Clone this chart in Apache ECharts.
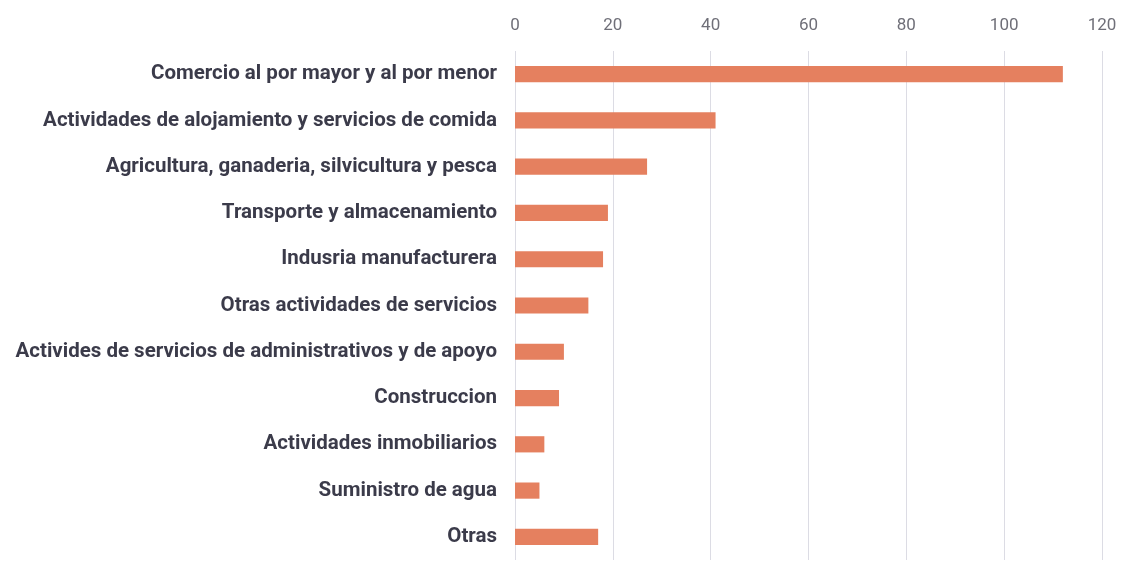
<!DOCTYPE html>
<html><head><meta charset="utf-8">
<script src="https://cdn.jsdelivr.net/npm/echarts@6/dist/echarts.min.js"></script>
<style>html,body{margin:0;padding:0;background:#fff}#c{width:1129px;height:562px}</style>
</head><body><div id="c"></div>
<script>
const categories = [
  "Comercio al por mayor y al por menor",
  "Actividades de alojamiento y servicios de comida",
  "Agricultura, ganaderia, silvicultura y pesca",
  "Transporte y almacenamiento",
  "Indusria manufacturera",
  "Otras actividades de servicios",
  "Activides de servicios de administrativos y de apoyo",
  "Construccion",
  "Actividades inmobiliarios",
  "Suministro de agua",
  "Otras"
];
const values = [112, 41, 27, 19, 18, 15, 10, 9, 6, 5, 17];
const xTicks = {min: 0, max: 120, step: 20};

const chart = echarts.init(document.getElementById('c'));
chart.setOption({
  backgroundColor: '#ffffff',
  animation: false,
  grid: {left: 515, right: 27, top: 51, bottom: 2},
  xAxis: {
    type: 'value', position: 'top', min: xTicks.min, max: xTicks.max, interval: xTicks.step,
    axisLine: {show: false}, axisTick: {show: false},
    axisLabel: {color: '#6f6f78', fontSize: 17, fontFamily: 'Roboto', margin: 17},
    splitLine: {lineStyle: {color: '#dcdce4', width: 1}}
  },
  yAxis: {
    type: 'category', inverse: true, data: categories,
    axisLine: {show: false}, axisTick: {show: false},
    axisLabel: {color: '#3b3b4a', fontSize: 20.5, fontWeight: 'bold', fontFamily: 'Roboto', margin: 18}
  },
  series: [{
    type: 'bar', data: values, barWidth: '35%',
    itemStyle: {color: '#E5805F'}
  }]
});
</script></body></html>
